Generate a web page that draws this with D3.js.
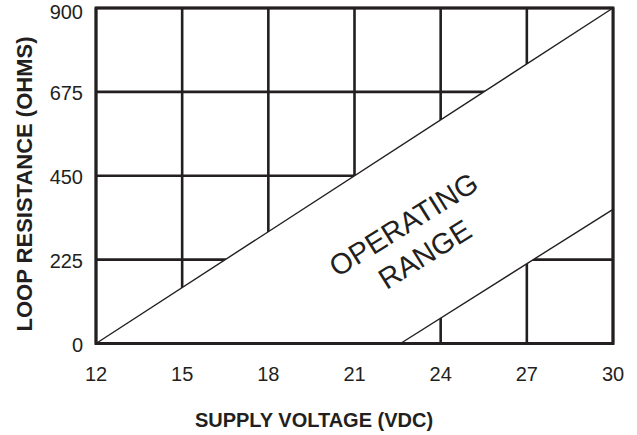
<!DOCTYPE html>
<html>
<head>
<meta charset="utf-8">
<script src="https://cdn.jsdelivr.net/npm/d3@7"></script>
<style>
  body { margin: 0; background: #fff; }
  text { font-family: "Liberation Sans", Arial, Helvetica, sans-serif; fill: #231f20; }
</style>
</head>
<body>
<div id="chart"></div>
<script>
// chart values
var xTicks = [12, 15, 18, 21, 24, 27, 30];
var yTicks = [0, 225, 450, 675, 900];
var upperLine = [{x: 12, y: 0}, {x: 30, y: 900}];
var lowerLine = [{x: 22.6, y: 0}, {x: 30, y: 360}];
var bandLabel = ["OPERATING", "RANGE"];

var W = 637, H = 435;
var margin = {top: 8, right: 24, bottom: 91.5, left: 96},
    width = W - margin.left - margin.right,
    height = H - margin.top - margin.bottom;
var ink = "#231f20";

var svg = d3.select("#chart").append("svg")
    .attr("width", W)
    .attr("height", H);
var g = svg.append("g")
    .attr("transform", "translate(" + margin.left + "," + margin.top + ")");

var x = d3.scaleLinear().domain([12, 30]).range([0, width]);
var y = d3.scaleLinear().domain([0, 900]).range([height, 0]);

// grid
g.selectAll("line.vgrid").data(xTicks).enter().append("line")
    .attr("x1", function(d) { return x(d); })
    .attr("x2", function(d) { return x(d); })
    .attr("y1", 0).attr("y2", height)
    .attr("stroke", ink).attr("stroke-width", 2.6);
g.selectAll("line.hgrid").data(yTicks).enter().append("line")
    .attr("y1", function(d) { return y(d); })
    .attr("y2", function(d) { return y(d); })
    .attr("x1", 0).attr("x2", width)
    .attr("stroke", ink).attr("stroke-width", 2.6);

// operating band (white, hides grid)
var line = d3.line().x(function(d) { return x(d.x); }).y(function(d) { return y(d.y); });
var band = upperLine.concat(lowerLine.slice().reverse());
g.append("path")
    .attr("d", line(band) + "Z")
    .attr("fill", "#fff");

[upperLine, lowerLine].forEach(function(l) {
    g.append("path").attr("d", line(l))
        .attr("fill", "none").attr("stroke", ink).attr("stroke-width", 1.4);
});

// frame
g.append("rect").attr("x", 0).attr("y", 0).attr("width", width).attr("height", height)
    .attr("fill", "none").attr("stroke", ink).attr("stroke-width", 3);

// tick labels
g.selectAll("text.xt").data(xTicks).enter().append("text")
    .attr("x", function(d) { return x(d); })
    .attr("y", height + 37)
    .attr("text-anchor", "middle")
    .style("font-size", "20px")
    .text(function(d) { return d; });
g.selectAll("text.yt").data(yTicks).enter().append("text")
    .attr("x", -13)
    .attr("y", function(d) { return y(d); })
    .attr("dy", function(d, i) { return i == yTicks.length - 1 ? "0.55em" : "0.42em"; })
    .attr("text-anchor", "end")
    .style("font-size", "20px")
    .text(function(d) { return d; });

// band label
var labelPos = [{x: 22.7, y: 320}, {x: 23.44, y: 240}];
bandLabel.forEach(function(t, i) {
    var px = x(labelPos[i].x), py = y(labelPos[i].y);
    g.append("text")
        .attr("transform", "translate(" + px + "," + py + ") rotate(-32)")
        .attr("text-anchor", "middle")
        .attr("dy", "0.36em")
        .style("font-size", "29px")
        .text(t);
});

// axis titles
svg.append("text")
    .attr("x", 314).attr("y", 427)
    .attr("text-anchor", "middle")
    .style("font-size", "20px").style("font-weight", "bold")
    .text("SUPPLY VOLTAGE (VDC)");
svg.append("text")
    .attr("transform", "translate(24,184) rotate(-90)")
    .attr("text-anchor", "middle")
    .attr("dy", "0.36em")
    .style("font-size", "22px").style("font-weight", "bold")
    .text("LOOP RESISTANCE (OHMS)");
</script>
</body>
</html>
